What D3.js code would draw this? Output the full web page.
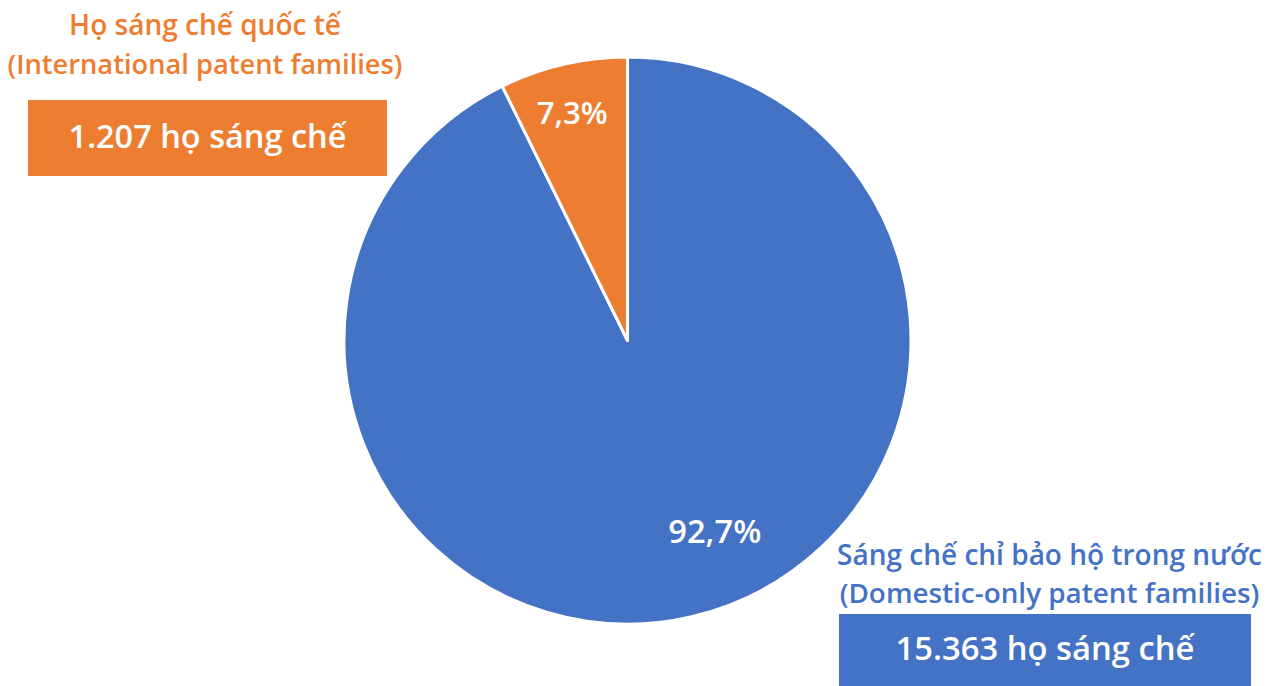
<!DOCTYPE html>
<html>
<head>
<meta charset="utf-8">
<script src="https://cdn.jsdelivr.net/npm/d3@7"></script>
<style>
  html, body { margin: 0; padding: 0; background: #fff; }
  svg { display: block; }
  text { font-family: "Open Sans", "Noto Sans", sans-serif; }
</style>
</head>
<body>
<svg id="chart" width="1281" height="686"></svg>
<script>
// ---- data ----
const categories = ["Sáng chế chỉ bảo hộ trong nước", "Họ sáng chế quốc tế"];
const categoriesEn = ["(Domestic-only patent families)", "(International patent families)"];
const values = [15363, 1207];
const percentLabels = ["92,7%", "7,3%"];
const countLabels = ["15.363 họ sáng chế", "1.207 họ sáng chế"];
const colors = ["#4472C4", "#ED7D31"];

const svg = d3.select("#chart");
const cx = 627.5, cy = 340.5, R = 283.5;

const pie = d3.pie().sort(null).value(d => d)(values);
const arc = d3.arc().innerRadius(0).outerRadius(R);

const g = svg.append("g").attr("transform", `translate(${cx},${cy})`);
g.selectAll("path").data(pie).join("path")
  .attr("d", arc)
  .attr("fill", (d, i) => colors[i])
  .attr("stroke", "#fff")
  .attr("stroke-width", 3)
  .attr("stroke-linejoin", "round");

function fit(sel, w) {
  const node = sel.node();
  const fs = parseFloat(sel.attr("font-size"));
  const cur = node.getComputedTextLength();
  sel.attr("font-size", fs * w / cur);
}

// percent labels (polar placement relative to centre)
const pctPos = [{ a: 155.3, r: 209 }, { a: -13.6, r: 235 }];
percentLabels.forEach((t, i) => {
  const a = pctPos[i].a * Math.PI / 180;
  const x = pctPos[i].r * Math.sin(a), y = -pctPos[i].r * Math.cos(a);
  const txt = g.append("text").text(t)
    .attr("x", x).attr("y", y)
    .attr("text-anchor", "middle").attr("dominant-baseline", "central")
    .attr("fill", "#fff").attr("font-size", 30).attr("font-weight", 600);
  fit(txt, i === 0 ? 93 : 71);
});

// callout labels
const callouts = [
  { cx: 1049.5, b1: 565, b2: 603, w1: 425, w2: 420, box: [839, 614, 412, 72], tb: 660, tw: 299 },
  { cx: 205, b1: 35, b2: 74, w1: 272, w2: 395, box: [28, 100, 359, 76], tb: 148, tw: 278 }
];
callouts.forEach((c, i) => {
  const t1 = svg.append("text").text(categories[i])
    .attr("x", c.cx).attr("y", c.b1).attr("text-anchor", "middle")
    .attr("fill", colors[i]).attr("font-size", 24).attr("font-weight", 600);
  fit(t1, c.w1);
  const t2 = svg.append("text").text(categoriesEn[i])
    .attr("x", c.cx).attr("y", c.b2).attr("text-anchor", "middle")
    .attr("fill", colors[i]).attr("font-size", 24).attr("font-weight", 600);
  fit(t2, c.w2);
  svg.append("rect").attr("x", c.box[0]).attr("y", c.box[1])
    .attr("width", c.box[2]).attr("height", c.box[3]).attr("fill", colors[i]);
  const t3 = svg.append("text").text(countLabels[i])
    .attr("x", c.box[0] + c.box[2] / 2).attr("y", c.tb).attr("text-anchor", "middle")
    .attr("fill", "#fff").attr("font-size", 30).attr("font-weight", 600);
  fit(t3, c.tw);
});
</script>
</body>
</html>
